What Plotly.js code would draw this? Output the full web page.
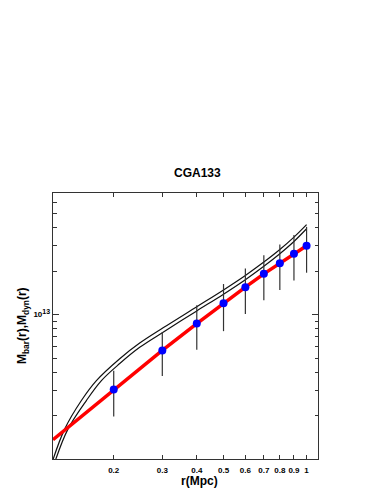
<!DOCTYPE html>
<html>
<head>
<meta charset="utf-8">
<script src="https://cdn.plot.ly/plotly-3.0.1.min.js"></script>
<style>
  html, body { margin: 0; padding: 0; background: #fff; }
  #chart { width: 382px; height: 494px; }
</style>
</head>
<body>
<div id="chart"></div>
<script>
// ---- data ----
const chartTitle = "CGA133";
const xTitle = "r(Mpc)";
const yTitle = "M<sub>bar</sub>(r),M<sub>dyn</sub>(r)";

// observed (baryonic) mass points with error bars
const radius   = [0.2, 0.3, 0.4, 0.5, 0.6, 0.7, 0.8, 0.9, 1.0];
const massBar  = [3.03e12, 5.65e12, 8.66e12, 1.198e13, 1.549e13, 1.915e13, 2.27e13, 2.64e13, 3.0e13];
const massErr  = [1.06e12, 1.9e12, 2.95e12, 4.3e12, 5.4e12, 6.6e12, 7.9e12, 9.2e12, 1.05e13];

// red fitted baryonic mass line
const fitR = [0.1205, 0.2, 0.3, 0.4, 0.5, 0.6, 0.7, 0.8, 0.9, 1.0];
const fitM = [1.36e12, 3.03e12, 5.65e12, 8.66e12, 1.198e13, 1.549e13, 1.915e13, 2.27e13, 2.64e13, 3.0e13];

// dynamical mass curves (upper and lower)
const dynRHi = [0.1205, 0.1328, 0.1527, 0.1731, 0.2103, 0.2484, 0.302, 0.4, 0.5, 0.6, 0.7, 0.8, 0.9, 1.0];
const dynMHi = [9.9e11, 1.61e12, 2.54e12, 3.49e12, 4.95e12, 6.35e12, 8.1e12, 1.134e13, 1.482e13, 1.867e13, 2.31e13, 2.822e13, 3.44e13, 4.2e13];
const dynRLo = [0.1232, 0.1365, 0.1592, 0.1805, 0.2103, 0.2484, 0.302, 0.4, 0.5, 0.6, 0.7, 0.8, 0.9, 1.0];
const dynMLo = [9.9e11, 1.61e12, 2.54e12, 3.49e12, 4.58e12, 5.93e12, 7.55e12, 1.06e13, 1.385e13, 1.745e13, 2.16e13, 2.64e13, 3.21e13, 3.93e13];

// axis ticks
const xTickVals = [0.2, 0.3, 0.4, 0.5, 0.6, 0.7, 0.8, 0.9, 1];
const xTickText = ["0.2", "0.3", "0.4", "0.5", "0.6", "0.7", "0.8", "0.9", "1"];
const yTickVals = [1e13];
const yTickText = ["10<sup><span style=\"font-size:7px\">13</span></sup>"];
const yMinorVals = [2e12, 3e12, 4e12, 5e12, 6e12, 7e12, 8e12, 9e12, 2e13, 3e13, 4e13, 5e13, 6e13];

// ---- plot ----
const FONT = "Liberation Sans, Arial, Helvetica, sans-serif";

const traces = [
  { x: dynRHi, y: dynMHi, mode: "lines", type: "scatter",
    line: { color: "#111", width: 1.2, shape: "spline", smoothing: 1 }, hoverinfo: "skip" },
  { x: dynRLo, y: dynMLo, mode: "lines", type: "scatter",
    line: { color: "#111", width: 1.2, shape: "spline", smoothing: 1 }, hoverinfo: "skip" },
  { x: fitR, y: fitM, mode: "lines", type: "scatter",
    line: { color: "#ff0000", width: 3.5 }, hoverinfo: "skip" },
  { x: radius, y: massBar, mode: "markers", type: "scatter",
    marker: { color: "#0000ff", size: 8 },
    error_y: { type: "data", array: massErr, visible: true, color: "#333", thickness: 1.2, width: 0 } }
];

const layout = {
  width: 382, height: 494,
  margin: { l: 53, r: 64, t: 193, b: 35 },
  paper_bgcolor: "#fff", plot_bgcolor: "#fff",
  showlegend: false,
  font: { family: FONT, color: "#000" },
  xaxis: {
    type: "log",
    range: [Math.log10(0.1205), Math.log10(1.1)],
    tickmode: "array", tickvals: xTickVals, ticktext: xTickText,
    ticks: "inside", ticklen: 4, tickwidth: 1, tickcolor: "#333",
    showline: true, linecolor: "#333", linewidth: 1.3, mirror: "ticks",
    showgrid: false, zeroline: false,
    tickfont: { family: FONT, size: 8, weight: "bold", color: "#000" },
    ticklabelstandoff: 3
  },
  yaxis: {
    type: "log",
    range: [12, 13.842],
    tickmode: "array", tickvals: yTickVals, ticktext: yTickText,
    ticks: "inside", ticklen: 6, tickwidth: 1, tickcolor: "#333",
    minor: { tickmode: "array", tickvals: yMinorVals, ticks: "inside", ticklen: 3.5, tickcolor: "#333", tickwidth: 1, showgrid: false },
    showline: true, linecolor: "#333", linewidth: 1.3, mirror: "ticks",
    showgrid: false, zeroline: false,
    tickfont: { family: FONT, size: 8, weight: "bold", color: "#000" }
  },
  annotations: [
    { text: chartTitle, xref: "paper", yref: "paper", x: 0.546, y: 1, yshift: 20,
      xanchor: "center", yanchor: "middle", showarrow: false,
      font: { family: FONT, size: 12, weight: "bold", color: "#000" } },
    { text: xTitle, xref: "paper", yref: "paper", x: 0.553, y: 0, yshift: -22,
      xanchor: "center", yanchor: "middle", showarrow: false,
      font: { family: FONT, size: 12, weight: "bold", color: "#000" } },
    { text: yTitle, xref: "paper", yref: "paper", x: 0, xshift: -30, y: 0.5,
      xanchor: "center", yanchor: "middle", textangle: -90, showarrow: false,
      font: { family: FONT, size: 12, weight: "bold", color: "#000" } }
  ]
};

Plotly.newPlot("chart", traces, layout, { staticPlot: true, displayModeBar: false });
</script>
</body>
</html>
